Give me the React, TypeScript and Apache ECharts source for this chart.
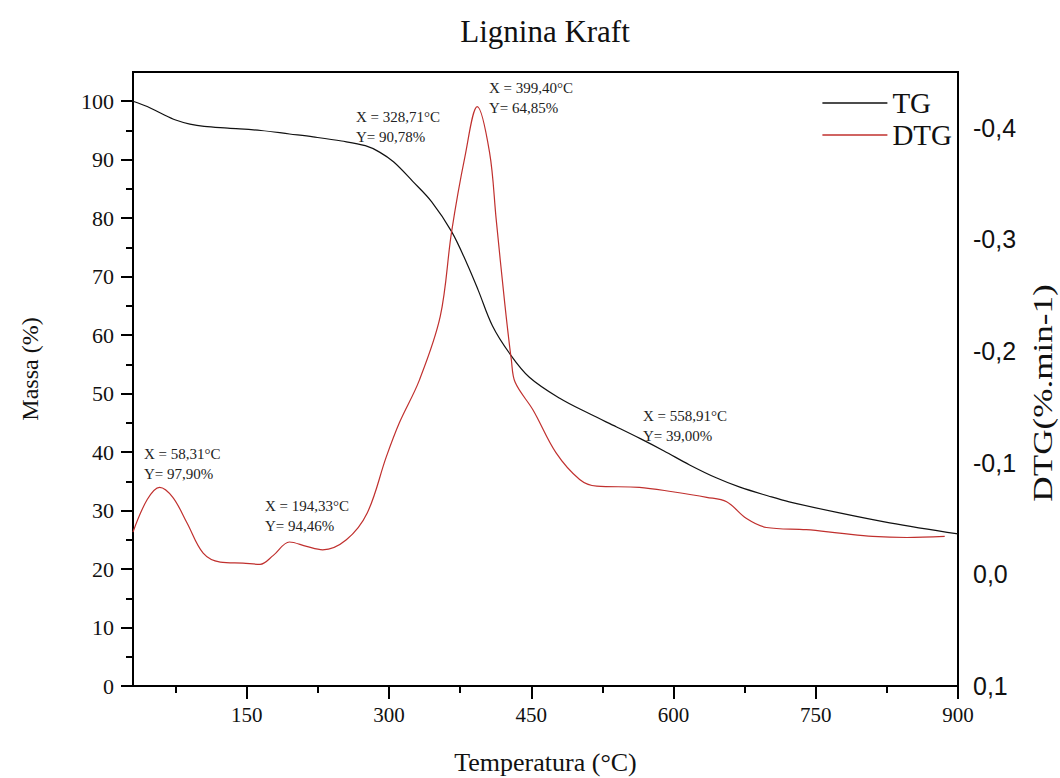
import React, { useEffect, useRef } from "react";
import * as echarts from "echarts";

// Temperatures (°C) and mass (%) for the TG curve
const tgTemp = [30, 45, 60, 75, 90, 105, 130, 165, 195, 220, 250, 275, 290, 305, 325, 345, 366, 382, 394, 409, 427, 448, 480, 512, 540, 565, 590, 617, 645, 670, 700, 722, 775, 828, 900];
const tgMass = [100.0, 99.1, 97.9, 96.8, 96.1, 95.7, 95.4, 95.0, 94.4, 93.9, 93.2, 92.4, 91.3, 89.6, 86.3, 82.8, 77.7, 72.3, 67.7, 61.6, 56.9, 52.8, 49.2, 46.5, 44.3, 42.3, 40.2, 37.8, 35.6, 34.0, 32.5, 31.5, 29.6, 27.9, 26.0];

// Temperatures (°C) and DTG (%.min-1) for the DTG curve
const dtgTemp = [30, 45, 58, 72, 87, 104, 122, 146, 164, 178, 195, 213, 230, 255, 277, 297, 311, 332, 354, 366, 380, 393, 406, 413, 422, 429, 433, 452, 476, 501, 519, 564, 599, 635, 656, 677, 698, 740, 775, 810, 846, 886];
const dtgValue = [-0.038, -0.067, -0.078, -0.069, -0.046, -0.019, -0.011, -0.010, -0.009, -0.017, -0.029, -0.025, -0.022, -0.031, -0.055, -0.105, -0.136, -0.174, -0.231, -0.307, -0.374, -0.419, -0.378, -0.318, -0.243, -0.192, -0.172, -0.147, -0.109, -0.085, -0.079, -0.078, -0.074, -0.069, -0.065, -0.050, -0.042, -0.040, -0.037, -0.034, -0.033, -0.034];

// Tick values
const xMajorTicks = [150, 300, 450, 600, 750, 900];
const xMinorTicks = [75, 225, 375, 525, 675, 825];
const yLeftMajorTicks = [0, 10, 20, 30, 40, 50, 60, 70, 80, 90, 100];
const yLeftMinorTicks = [5, 15, 25, 35, 45, 55, 65, 75, 85, 95];
const yRightTicks = [-0.4, -0.3, -0.2, -0.1, 0.0, 0.1];

// Annotation labels
const annotations = [
  { text: "X = 58,31°C\nY= 97,90%", left: 144, top: 444 },
  { text: "X = 194,33°C\nY= 94,46%", left: 265, top: 496 },
  { text: "X = 328,71°C\nY= 90,78%", left: 356, top: 107 },
  { text: "X = 399,40°C\nY= 64,85%", left: 489, top: 78 },
  { text: "X = 558,91°C\nY= 39,00%", left: 643, top: 406 },
];

const SERIF = '"Liberation Serif", "Times New Roman", serif';
const SANS = '"Liberation Sans", Arial, sans-serif';

export default function App() {
  const ref = useRef<HTMLDivElement>(null);

  useEffect(() => {
    if (!ref.current) return;
    const chart = echarts.init(ref.current, null, { renderer: "svg" });

    const tgData = tgTemp.map((t, i) => [t, tgMass[i]]);
    const dtgData = dtgTemp.map((t, i) => [t, dtgValue[i]]);

    const axisLine = { show: true, onZero: false, lineStyle: { color: "#000", width: 2 } };

    chart.setOption({
      animation: false,
      backgroundColor: "#fff",
      title: {
        text: "Lignina Kraft",
        left: 545,
        top: 16,
        textAlign: "center",
        padding: 0,
        textStyle: { fontFamily: SERIF, fontSize: 31, fontWeight: "normal", color: "#111" },
      },
      legend: {
        data: [
          { name: "TG", icon: "rect" },
          { name: "DTG", icon: "rect" },
        ],
        orient: "vertical",
        right: 108,
        top: 88,
        itemWidth: 65,
        itemHeight: 1.4,
        itemGap: 2,
        padding: 0,
        textStyle: { fontFamily: SERIF, fontSize: 29, color: "#111", lineHeight: 30 },
      },
      grid: {
        left: 133,
        right: 102,
        top: 72,
        bottom: 92,
        outerBoundsMode: "none",
        containLabel: false,
        show: true,
        borderColor: "#000",
        borderWidth: 2,
        backgroundColor: "transparent",
      },
      xAxis: [
        {
          type: "value",
          min: 30,
          max: 900,
          position: "bottom",
          axisLine,
          splitLine: { show: false },
          axisTick: { show: true, customValues: xMajorTicks, length: 13, lineStyle: { color: "#000", width: 2 } },
          axisLabel: {
            customValues: xMajorTicks,
            margin: 18,
            fontFamily: SERIF,
            fontSize: 21,
            color: "#111",
          },
          name: "Temperatura (°C)",
          nameLocation: "middle",
          nameGap: 63,
          nameTextStyle: { fontFamily: SERIF, fontSize: 26, color: "#111" },
        },
        {
          type: "value",
          min: 30,
          max: 900,
          position: "bottom",
          axisLine: { show: false, onZero: false },
          splitLine: { show: false },
          axisTick: { show: true, customValues: xMinorTicks, length: 7, lineStyle: { color: "#000", width: 2 } },
          axisLabel: { show: false },
        },
      ],
      yAxis: [
        {
          type: "value",
          min: 0,
          max: 105,
          position: "left",
          axisLine,
          splitLine: { show: false },
          axisTick: { show: true, customValues: yLeftMajorTicks, length: 12, lineStyle: { color: "#000", width: 2 } },
          axisLabel: {
            customValues: yLeftMajorTicks,
            margin: 19,
            fontFamily: SERIF,
            fontSize: 22,
            color: "#111",
          },
          name: "Massa (%)",
          nameLocation: "middle",
          nameGap: 91,
          nameRotate: 90,
          nameTextStyle: { fontFamily: SERIF, fontSize: 24, color: "#111", padding: [0, 0, 0, 20] },
        },
        {
          type: "value",
          min: 0,
          max: 105,
          position: "left",
          axisLine: { show: false, onZero: false },
          splitLine: { show: false },
          axisTick: { show: true, customValues: yLeftMinorTicks, length: 7, lineStyle: { color: "#000", width: 2 } },
          axisLabel: { show: false },
        },
        {
          type: "value",
          min: -0.45,
          max: 0.1,
          inverse: true,
          position: "right",
          axisLine,
          splitLine: { show: false },
          axisTick: { show: false },
          axisLabel: {
            customValues: yRightTicks,
            margin: 15,
            fontFamily: SANS,
            fontSize: 25,
            color: "#111",
            formatter: (v: number) => {
              const s = (Math.abs(v) < 1e-9 ? 0 : v).toFixed(1);
              return s.replace(".", ",");
            },
          },
        },
      ],
      series: [
        {
          name: "TG",
          type: "line",
          xAxisIndex: 0,
          yAxisIndex: 0,
          data: tgData,
          symbol: "none",
          smooth: 0.35,
          lineStyle: { color: "#111", width: 1.2 },
          itemStyle: { color: "#111" },
        },
        {
          name: "DTG",
          type: "line",
          xAxisIndex: 0,
          yAxisIndex: 2,
          data: dtgData,
          symbol: "none",
          smooth: 0.35,
          lineStyle: { color: "#c0302e", width: 1.2 },
          itemStyle: { color: "#c0302e" },
        },
      ],
      graphic: [
        ...annotations.map((a) => ({
          type: "text",
          left: a.left,
          top: a.top,
          style: {
            text: a.text,
            fontFamily: SERIF,
            fontSize: 15,
            lineHeight: 20,
            fill: "#222",
          },
        })),
        {
          type: "text",
          x: 1043,
          y: 393,
          rotation: Math.PI / 2,
          scaleX: 1.3,
          style: {
            text: "DTG(%.min-1)",
            fontFamily: SERIF,
            fontSize: 27,
            fill: "#111",
            align: "center",
            verticalAlign: "middle",
          },
        },
      ],
    });

    return () => chart.dispose();
  }, []);

  return (
    <div
      ref={ref}
      style={{ position: "fixed", left: 0, top: 0, width: 1060, height: 778, background: "#fff" }}
    />
  );
}
